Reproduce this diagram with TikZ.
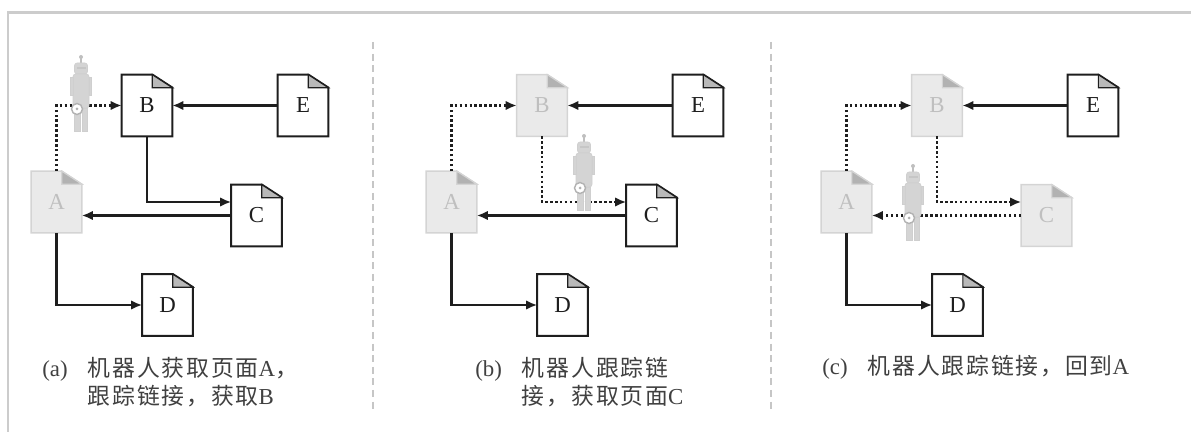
\documentclass[tikz,border=0pt]{standalone}
\usepackage{fontspec}
\setmainfont{Liberation Serif}
\newfontfamily\cjk[LetterSpace=8]{Noto Sans CJK SC}
\usepackage{tikz}
\usetikzlibrary{arrows.meta,positioning}
\usepackage{xcolor}
\definecolor{inkdark}{RGB}{30,30,30}
\definecolor{seenfill}{RGB}{234,234,234}
\definecolor{seenline}{RGB}{212,212,212}
\definecolor{seenfold}{RGB}{178,178,178}
\definecolor{botgrey}{RGB}{212,212,212}
\newcommand{\zh}[1]{{\cjk #1}}

% little grey crawler, centred on #1
\newcommand{\crawler}[1]{%
  \begin{scope}[shift={#1}]
    \draw[botgrey!90!black, line width=0.8pt] (0,0.6) -- (0,0.69);
    \fill[botgrey!90!black] (0,0.72) circle (0.04);
    \filldraw[botbody, rounded corners=1.5pt] (-0.13,0.38) rectangle (0.13,0.6);
    \fill[gray!45] (-0.09,0.47) rectangle (0.09,0.52);
    \filldraw[botbody, rounded corners=1.5pt] (-0.16,-0.3) rectangle (0.16,0.38);
    \filldraw[botbody] (-0.21,-0.05) rectangle (-0.16,0.32);
    \filldraw[botbody] (0.16,-0.05) rectangle (0.21,0.32);
    \filldraw[botbody] (-0.13,-0.77) rectangle (-0.02,-0.3);
    \filldraw[botbody] (0.02,-0.77) rectangle (0.13,-0.3);
    \filldraw[fill=white, draw=gray!60, line width=0.8pt] (-0.08,-0.32) circle (0.11);
    \fill[gray!60] (-0.08,-0.32) circle (0.03);
  \end{scope}}

\begin{document}
\begin{tikzpicture}[
    % fill, edge, fold, text, edge width
    pagebox/.style n args={5}{rectangle, minimum width=10mm, minimum height=12.2mm,
        inner sep=0pt, text=#4, font=\fontsize{13}{13}\selectfont,
        append after command={\pgfextra{
            \filldraw[fill=#1, draw=#2, line width=#5, line join=miter]
                (\tikzlastnode.south west) -- (\tikzlastnode.north west)
                -- ([xshift=-4mm]\tikzlastnode.north east) -- ([yshift=-2.6mm]\tikzlastnode.north east)
                -- (\tikzlastnode.south east) -- cycle;
            \filldraw[fill=#3, draw=#2, line width=0.7pt]
                ([xshift=-4mm]\tikzlastnode.north east) |- ([yshift=-2.6mm]\tikzlastnode.north east) -- cycle;}}},
    page/.style={pagebox={white}{inkdark}{gray!55}{inkdark}{1.2pt}},
    seen/.style={pagebox={seenfill}{seenline}{seenfold}{gray!50}{0.8pt}},
    link/.style={-{Latex[length=2.2mm,width=1.9mm]}, line width=1.2pt, draw=inkdark},
    crawl/.style={link, dash pattern=on 1.4pt off 1.4pt},
    botbody/.style={fill=botgrey, draw=gray!38, line width=0.4pt},
    caption/.style={anchor=base west, inner sep=0pt, text=black!75,
        font=\fontsize{13}{16}\selectfont},
    divider/.style={gray!45, line width=0.8pt, dash pattern=on 4pt off 2.6pt}
]
    \useasboundingbox (0,0) rectangle (23.82,-8.64);
    \draw[gray!40, line width=1.2pt] (0.16,-8.64) |- (23.82,-0.25);
    \draw[divider] (7.46,-0.84) -- (7.46,-8.26);
    \draw[divider] (15.42,-0.84) -- (15.42,-8.26);

    % (a) robot leaves A for B
    \node[seen] (A1) at (1.13,-4.04) {A};
    \node[page] (B1) at (2.94,-2.11) {B};
    \node[page] (E1) at (6.06,-2.11) {E};
    \node[page] (C1) at (5.13,-4.31) {C};
    \node[page] (D1) at (3.35,-6.10) {D};
    \draw[crawl] (A1.north) |- (B1.west);
    \draw[link] (E1.west) -- (B1.east);
    \draw[link] (B1.south) |- ([yshift=2.7mm]C1.west);
    \draw[link] (C1.west) -- (C1.west -| A1.east);
    \draw[link] (A1.south) |- (D1.west);
    \crawler{(1.62,-1.86)}
    \node[caption] (capa) at (0.84,-7.52) {\begin{tabular}[t]{@{}l@{\hspace{4mm}}l@{}}
        (a) & \zh{机器人获取页面}A\zh{，}\\ & \zh{跟踪链接，获取}B\end{tabular}};

    % (b) on to C
    \begin{scope}[xshift=7.9cm]
    \node[seen] (A2) at (1.13,-4.04) {A};
    \node[seen] (B2) at (2.94,-2.11) {B};
    \node[page] (E2) at (6.06,-2.11) {E};
    \node[page] (C2) at (5.13,-4.31) {C};
    \node[page] (D2) at (3.35,-6.10) {D};
    \draw[crawl] (A2.north) |- (B2.west);
    \draw[link] (E2.west) -- (B2.east);
    \draw[crawl] (B2.south) |- ([yshift=2.7mm]C2.west);
    \draw[link] (C2.west) -- (C2.west -| A2.east);
    \draw[link] (A2.south) |- (D2.west);
    \crawler{(3.78,-3.44)}
    \node[caption] (capb) at (1.60,-7.52) {\begin{tabular}[t]{@{}l@{\hspace{4mm}}l@{}}
        (b) & \zh{机器人跟踪链}\\ & \zh{接，获取页面}C\end{tabular}};
    \end{scope}

    % (c) back round to A
    \begin{scope}[xshift=15.8cm]
    \node[seen] (A3) at (1.13,-4.04) {A};
    \node[seen] (B3) at (2.94,-2.11) {B};
    \node[page] (E3) at (6.06,-2.11) {E};
    \node[seen] (C3) at (5.13,-4.31) {C};
    \node[page] (D3) at (3.35,-6.10) {D};
    \draw[crawl] (A3.north) |- (B3.west);
    \draw[link] (E3.west) -- (B3.east);
    \draw[crawl] (B3.south) |- ([yshift=2.7mm]C3.west);
    \draw[crawl] (C3.west) -- (C3.west -| A3.east);
    \draw[link] (A3.south) |- (D3.west);
    \crawler{(2.46,-4.04)}
    \node[caption] (capc) at (0.64,-7.48) {\begin{tabular}[t]{@{}l@{\hspace{4mm}}l@{}}
        (c) & \zh{机器人跟踪链接，回到}A\end{tabular}};
    \end{scope}
\end{tikzpicture}
\end{document}
